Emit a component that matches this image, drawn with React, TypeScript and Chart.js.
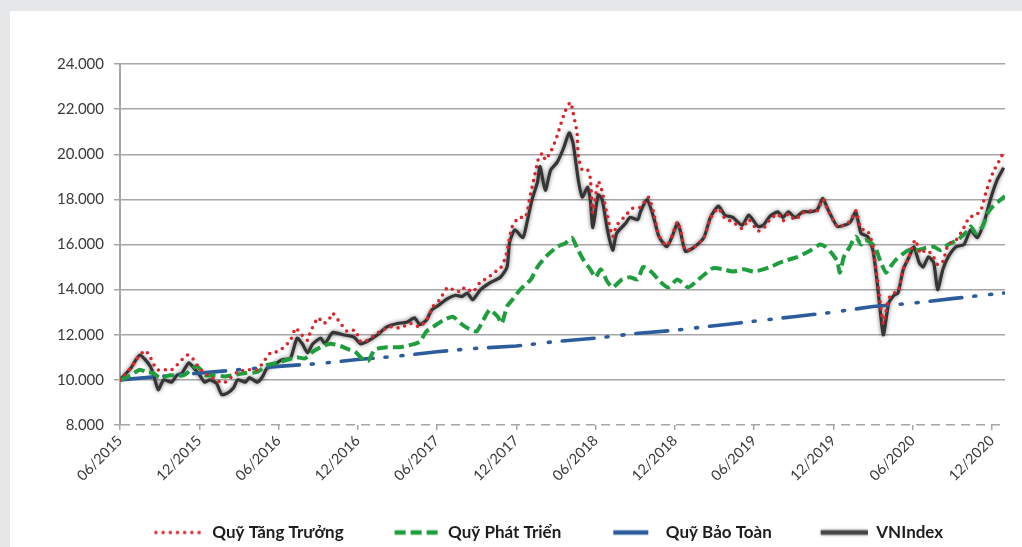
import React, { useEffect, useRef } from 'react';
import { Chart, registerables } from 'chart.js';

Chart.register(...registerables);

// X tick labels, one every 6 months starting at 06/2015 (month index 0)
const xTickLabels = [
  '06/2015', '12/2015', '06/2016', '12/2016', '06/2017', '12/2017',
  '06/2018', '12/2018', '06/2019', '12/2019', '06/2020', '12/2020',
];

const yTicks = [8000, 10000, 12000, 14000, 16000, 18000, 20000, 22000, 24000];

// Quỹ Tăng Trưởng (months since 06/2015, value)
const ttMonths = [
  0, 0.9, 1.3, 1.9, 2.3, 2.5, 2.8, 3.3, 3.9, 4.3, 4.7, 5.1, 5.5, 5.9, 6.4, 6.8, 7.3, 7.8, 8.2, 8.9,
  9.6, 10.4, 10.8, 11.4, 11.9, 12.3, 12.9, 13.3, 13.6, 14.2, 14.4, 15.0, 15.4, 15.8, 16.1, 16.7, 17.2, 17.8, 18.2, 18.7,
  19.7, 20.5, 21.2, 22.0, 22.7, 23.3, 23.7, 24.2, 24.8, 25.2, 25.8, 26.1, 26.7, 27.3, 27.8, 28.3, 28.8, 29.2, 29.7, 30.2,
  30.7, 31.1, 31.3, 31.7, 32.0, 32.2, 32.6, 33.0, 33.3, 33.7, 34.1, 34.3, 34.6, 34.7, 35.0, 35.4, 35.6, 35.8, 36.2, 36.5,
  36.9, 37.3, 37.6, 38.3, 38.8, 39.4, 40.0, 40.4, 40.8, 41.4, 41.8, 42.2, 42.4, 42.8, 43.4, 44.2, 44.7, 45.3, 45.8, 46.4,
  47.1, 47.6, 48.3, 48.7, 49.2, 49.8, 50.2, 50.6, 51.1, 51.7, 52.3, 52.8, 53.2, 53.6, 54.3, 54.8, 55.3, 55.7, 56.1, 56.6,
  57.0, 57.3, 57.6, 57.8, 58.2, 58.6, 58.9, 59.3, 59.7, 60.2, 60.6, 61.0, 61.5, 61.9, 62.3, 62.7, 63.3, 63.8, 64.3, 64.8,
  65.2, 65.6, 66.1, 66.6, 66.9,
];
const ttValues = [
  10000, 10600, 10950, 11300, 11000, 10750, 10450, 10450, 10450, 10650, 10900, 11100, 10950, 10600, 10300, 10150, 10000, 9850, 10000, 10350,
  10450, 10450, 10750, 11200, 11250, 11400, 11750, 12300, 12100, 11750, 12100, 12750, 12500, 12650, 12950, 12500, 12150, 12200, 11700, 11750,
  12150, 12350, 12300, 12500, 12350, 12750, 13250, 13550, 14100, 14000, 13900, 14100, 13900, 14350, 14500, 14750, 14950, 15450, 16800, 17200,
  17200, 18300, 18800, 19850, 20050, 19750, 20100, 20650, 21200, 21900, 22300, 21850, 20950, 19900, 19300, 19300, 18950, 17400, 18800, 18350,
  17250, 16350, 16850, 17300, 17600, 17650, 18100, 17400, 16400, 15950, 16400, 17000, 16700, 15750, 15850, 16300, 17150, 17600, 17150, 17000,
  16700, 17100, 16600, 16700, 17100, 17350, 17050, 17350, 17100, 17400, 17500, 17500, 18000, 17500, 16800, 16850, 17050, 17500, 16700, 16600,
  15950, 14600, 13200, 12500, 13600, 13850, 13900, 14900, 15400, 16200, 15600, 15750, 15550, 15100, 15250, 16000, 16200, 16650, 17200, 17300,
  17550, 18400, 19200, 19750, 20100,
];

// Quỹ Phát Triển
const ptMonths = [
  0, 0.8, 1.5, 2.0, 2.5, 3.0, 3.8, 4.8, 5.8, 6.5, 7.2, 7.9, 8.5, 9.5, 10.4, 11.1, 11.9, 12.7, 13.4, 14.0,
  14.6, 15.2, 15.9, 16.7, 17.3, 17.8, 18.4, 18.8, 19.3, 20.2, 21.2, 22.0, 22.7, 23.2, 23.7, 24.5, 25.2, 25.8, 26.3, 27.0,
  27.5, 28.0, 28.6, 28.9, 29.3, 29.7, 30.3, 31.1, 31.6, 32.3, 33.1, 33.7, 34.2, 34.6, 35.1, 35.6, 36.0, 36.4, 36.9, 37.3,
  38.0, 38.6, 39.2, 39.6, 40.2, 40.9, 41.5, 42.2, 43.0, 43.6, 44.2, 44.9, 45.7, 46.4, 47.2, 48.0, 48.7, 49.2, 50.2, 51.3,
  52.3, 53.0, 53.4, 53.9, 54.3, 54.5, 54.8, 55.2, 55.7, 56.1, 56.4, 56.8, 57.2, 57.6, 58.0, 58.3, 58.7, 59.2, 59.7, 60.4,
  61.0, 61.6, 62.1, 62.7, 63.4, 64.0, 64.4, 64.8, 65.3, 65.7, 66.1, 66.7, 67.0,
];
const ptValues = [
  10000, 10200, 10450, 10350, 10300, 10100, 10200, 10200, 10600, 10200, 10200, 10150, 10200, 10300, 10350, 10650, 10750, 10900, 11000, 10950,
  11250, 11450, 11600, 11500, 11350, 11250, 10900, 10850, 11350, 11450, 11450, 11550, 11700, 12150, 12350, 12650, 12800, 12500, 12300, 12150,
  12650, 13100, 12800, 12500, 13250, 13550, 14000, 14450, 15000, 15500, 15900, 16050, 16300, 15850, 15300, 14900, 14550, 14900, 14350, 14100,
  14450, 14550, 14450, 15000, 14800, 14350, 14100, 14450, 14100, 14350, 14650, 14950, 14900, 14800, 14900, 14800, 14900, 15000, 15250, 15450,
  15750, 16000, 15900, 15600, 15250, 14750, 15450, 15850, 16350, 16000, 16200, 16100, 15850, 15200, 14750, 15000, 15300, 15550, 15750, 15750,
  15850, 15900, 15750, 16000, 16200, 16500, 16800, 16500, 16800, 17400, 17700, 18000, 18150,
];

// Quỹ Bảo Toàn
const btMonths = [0, 3, 6, 9, 12, 15, 18, 21, 24, 27, 30, 33, 36, 39, 42, 45, 48, 51, 54, 57, 60, 63, 66.9];
const btValues = [
  10000, 10150, 10300, 10450, 10600, 10720, 10900, 11050, 11250, 11400, 11500, 11700, 11850, 12050, 12200, 12400,
  12600, 12800, 13000, 13250, 13400, 13600, 13850,
];

// VNIndex
const vnMonths = [
  0, 0.8, 1.5, 2.3, 2.6, 2.9, 3.3, 3.9, 4.3, 4.7, 5.2, 5.7, 6.1, 6.4, 6.8, 7.3, 7.7, 8.1, 8.6, 8.9,
  9.5, 9.8, 10.4, 10.8, 11.1, 11.6, 12.0, 12.3, 12.9, 13.4, 13.8, 14.2, 14.6, 15.2, 15.5, 16.1, 16.9, 17.7, 18.2, 18.7,
  19.5, 20.2, 21.0, 21.7, 22.3, 22.7, 23.2, 23.6, 24.1, 24.8, 25.4, 25.9, 26.3, 26.7, 27.3, 28.0, 28.8, 29.3, 29.5, 29.9,
  30.5, 30.8, 31.2, 31.6, 31.8, 32.2, 32.6, 33.1, 33.6, 34.0, 34.3, 34.7, 35.0, 35.4, 35.6, 35.8, 36.2, 36.5, 36.9, 37.3,
  37.6, 38.3, 38.6, 39.2, 39.4, 39.9, 40.4, 40.8, 41.4, 41.8, 42.2, 42.4, 42.8, 43.4, 44.2, 44.7, 45.3, 45.8, 46.4, 47.1,
  47.6, 48.3, 48.7, 49.2, 49.8, 50.2, 50.6, 51.1, 51.7, 52.3, 52.8, 53.2, 53.6, 54.3, 54.8, 55.3, 55.7, 56.1, 56.6, 57.0,
  57.3, 57.6, 57.8, 58.2, 58.6, 58.9, 59.3, 59.7, 60.1, 60.5, 60.8, 61.2, 61.6, 61.9, 62.3, 62.7, 63.3, 63.9, 64.4, 64.9,
  65.4, 65.9, 66.4, 66.9,
];
const vnValues = [
  10000, 10500, 11100, 10600, 10100, 9550, 10000, 9900, 10200, 10300, 10750, 10450, 10150, 9900, 10000, 9850, 9350, 9400, 9650, 10000,
  9900, 10100, 9900, 10150, 10500, 10650, 10800, 10900, 10950, 11850, 11600, 11200, 11600, 11850, 11600, 12100, 12000, 11900, 11600, 11700,
  12000, 12350, 12500, 12550, 12750, 12450, 12650, 13100, 13300, 13600, 13750, 13700, 13850, 13550, 14000, 14300, 14550, 15000, 16100, 16650,
  16300, 16950, 18000, 18750, 19450, 18400, 19300, 19650, 20300, 20950, 20500, 18850, 18100, 18550, 18000, 16750, 18200, 18000, 16650, 15750,
  16500, 16950, 17200, 17100, 17450, 18000, 17200, 16350, 15900, 16350, 16950, 16650, 15700, 15850, 16300, 17200, 17700, 17300, 17200, 16850,
  17300, 16800, 16850, 17250, 17450, 17200, 17450, 17200, 17450, 17450, 17550, 18050, 17550, 16800, 16850, 17000, 17450, 16500, 16350, 15750,
  14450, 12800, 12000, 13400, 13750, 13850, 14900, 15400, 15900, 15200, 15000, 15450, 15200, 14000, 14900, 15450, 15900, 16000, 16650, 16300,
  16950, 18000, 18850, 19400,
];

const seriesLabels = ['Quỹ Tăng Trưởng', 'Quỹ Phát Triển', 'Quỹ Bảo Toàn', 'VNIndex'];

const toPoints = (xs: number[], ys: number[]) => xs.map((x, i) => ({ x, y: ys[i] }));

const FONT = "Lato, 'Open Sans', 'DejaVu Sans', sans-serif";
const LEGEND_BOX = 90;

type LegendSwatch = {
  color: string;
  width: number;
  dash: number[];
  cap: CanvasLineCap;
  length: number;
  endGap: number;
  halo?: boolean;
};

function makeSwatch(s: LegendSwatch): HTMLCanvasElement {
  const c = document.createElement('canvas');
  c.width = LEGEND_BOX;
  c.height = 12;
  const g = c.getContext('2d')!;
  g.strokeStyle = s.color;
  g.lineWidth = s.width;
  g.lineCap = s.cap;
  g.setLineDash(s.dash);
  if (s.halo) {
    g.shadowColor = 'rgba(0,0,0,0.5)';
    g.shadowBlur = 3;
  }
  const end = LEGEND_BOX - s.endGap;
  g.beginPath();
  g.moveTo(end - s.length + (s.cap === 'round' ? 2 : 0), 6);
  g.lineTo(end, 6);
  g.stroke();
  return c;
}

const haloPlugin = {
  id: 'halo',
  beforeDatasetDraw(chart: any, args: any) {
    if (args.index === 3) {
      const ctx = chart.ctx;
      ctx.save();
      ctx.shadowColor = 'rgba(0,0,0,0.55)';
      ctx.shadowBlur = 4;
    }
  },
  afterDatasetDraw(chart: any, args: any) {
    if (args.index === 3) chart.ctx.restore();
  },
};

export default function App() {
  const ref = useRef<HTMLCanvasElement>(null);

  useEffect(() => {
    document.body.style.margin = '0';
    const canvas = ref.current!;
    const swatches = [
      makeSwatch({ color: '#d8262c', width: 3.6, dash: [0, 7.2], cap: 'round', length: 50, endGap: 0 }),
      makeSwatch({ color: '#1f9e3d', width: 4.5, dash: [11, 5], cap: 'butt', length: 45, endGap: 0 }),
      makeSwatch({ color: '#2d5c9c', width: 4.5, dash: [], cap: 'butt', length: 35, endGap: 9 }),
      makeSwatch({ color: '#474747', width: 4.5, dash: [], cap: 'butt', length: 47, endGap: 0, halo: true }),
    ];
    const chart = new Chart(canvas, {
      type: 'line',
      data: {
        datasets: [
          {
            label: seriesLabels[0],
            data: toPoints(ttMonths, ttValues),
            borderColor: '#d8262c',
            borderWidth: 3.6,
            borderDash: [0, 7],
            borderCapStyle: 'round',
            pointRadius: 0,
            tension: 0.2,
            fill: false,
          },
          {
            label: seriesLabels[1],
            data: toPoints(ptMonths, ptValues),
            borderColor: '#1f9e3d',
            borderWidth: 4,
            borderDash: [11, 5],
            pointRadius: 0,
            tension: 0.2,
            fill: false,
          },
          {
            label: seriesLabels[2],
            data: toPoints(btMonths, btValues),
            borderColor: '#2d5c9c',
            borderWidth: 3.6,
            borderDash: [32, 12, 2, 14, 2, 12],
            borderCapStyle: 'round',
            pointRadius: 0,
            tension: 0,
            fill: false,
          },
          {
            label: seriesLabels[3],
            data: toPoints(vnMonths, vnValues),
            borderColor: '#353535',
            borderWidth: 3.2,
            pointRadius: 0,
            tension: 0.2,
            fill: false,
          },
        ],
      },
      options: {
        animation: false,
        responsive: false,
        maintainAspectRatio: false,
        layout: { padding: { left: 42, right: 17, top: 53, bottom: -4 } },
        plugins: {
          tooltip: { enabled: false },
          legend: {
            position: 'bottom',
            labels: {
              usePointStyle: true,
              pointStyleWidth: LEGEND_BOX,
              padding: 6,
              color: '#1e1e1e',
              font: { family: FONT, size: 17, weight: 'bold' },
              generateLabels: (c: any) =>
                c.data.datasets.map((ds: any, i: number) => ({
                  text: ds.label,
                  fillStyle: 'rgba(0,0,0,0)',
                  strokeStyle: ds.borderColor,
                  lineWidth: 0,
                  pointStyle: swatches[i],
                  hidden: false,
                  datasetIndex: i,
                  fontColor: '#1e1e1e',
                })),
            },
          },
        },
        scales: {
          x: {
            type: 'linear',
            min: 0,
            max: 67,
            afterFit: (s: any) => {
              s.height = 93;
            },
            border: { display: false },
            grid: {
              drawOnChartArea: false,
              drawTicks: true,
              tickLength: 5,
              color: '#a6a6a6',
              lineWidth: 1.5,
            },
            ticks: {
              stepSize: 6,
              includeBounds: false,
              autoSkip: false,
              maxRotation: 45,
              minRotation: 45,
              padding: 2,
              color: '#3a3a3a',
              font: { family: FONT, size: 14.5 },
              callback: (v: any) => xTickLabels[Math.round(Number(v) / 6)] ?? null,
            },
          },
          y: {
            min: 8000,
            max: 24000,
            afterFit: (s: any) => {
              s.width = 68;
            },
            border: {
              display: true,
              color: '#a6a6a6',
              width: 2,
              dash: (ctx: any) => (ctx.tick && ctx.tick.value === 8000 ? [9, 6] : []),
            },
            grid: {
              color: '#a6a6a6',
              lineWidth: 1.5,
              tickLength: 6,
            },
            afterBuildTicks: (s: any) => {
              s.ticks = yTicks.map((v) => ({ value: v }));
            },
            ticks: {
              padding: 10,
              color: '#3a3a3a',
              font: { family: FONT, size: 15 },
              callback: (v: any) => `${Math.round(Number(v) / 1000)}.000`,
            },
          },
        },
      },
      plugins: [haloPlugin],
    });
    return () => chart.destroy();
  }, []);

  return (
    <div style={{ position: 'fixed', left: 0, top: 0, width: 1022, height: 547, background: '#e6e7e9' }}>
      <div style={{ position: 'absolute', left: 10, top: 11, width: 1012, height: 536, background: '#ffffff' }}>
        <canvas ref={ref} width={1012} height={536} style={{ display: 'block', width: 1012, height: 536 }} />
      </div>
    </div>
  );
}
